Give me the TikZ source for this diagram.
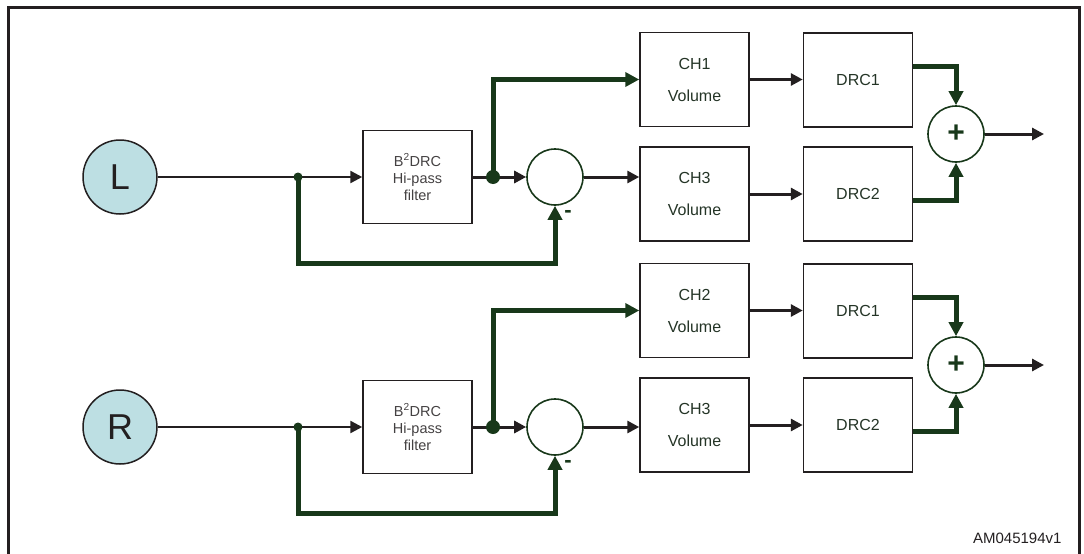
\documentclass[tikz,border=0pt]{standalone}
\usepackage{fontspec}
\setmainfont{Liberation Sans}
\usetikzlibrary{arrows.meta,calc,positioning}
\definecolor{sigblack}{RGB}{35,31,32}
\definecolor{fbgreen}{RGB}{24,56,26}
\definecolor{inblue}{RGB}{189,223,227}
\definecolor{lbltext}{RGB}{36,52,38}

\tikzset{
  blk/.style={draw=sigblack, line width=1.5pt, minimum width=109pt, minimum height=94pt, inner sep=0pt,
    font=\fontsize{16}{32}\selectfont, text=lbltext, align=center},
  fltbox/.style={blk, minimum height=93pt, font=\fontsize{14.5}{17}\selectfont, text=sigblack!85},
  src/.style={circle, draw=sigblack, line width=1.5pt, fill=inblue, minimum size=74pt, inner sep=0pt,
    font=\fontsize{36}{36}\selectfont, text=sigblack},
  mix/.style={circle, draw=fbgreen, line width=1.6pt, minimum size=56pt, inner sep=0pt},
  sig/.style={draw=sigblack, line width=3pt, -{Triangle[length=12pt,width=12pt]}},
  fb/.style={draw=fbgreen, line width=5pt, -{Triangle[length=14pt,width=14pt]}},
  jdot/.style={circle, fill=fbgreen, inner sep=0pt, minimum size=#1},
}

\begin{document}
\begin{tikzpicture}[x=1pt, y=-1pt]
  \useasboundingbox (0,0) rectangle (1084,554);
  % frame
  \draw[line width=3pt, sigblack] (8.5,554) -- (8.5,7) -- (1079,7) -- (1079,554);

  \foreach \lab/\dy/\dr/\chn in {L/0/0/1, R/250/231/2} {
    % left part: input, filter, subtractor
    \node[src] (src\lab) at (120,177+\dy) {\lab};
    \coordinate (jA\lab) at (298,177+\dy);
    \node[fltbox] (flt\lab) at (417.5,177+\dy) {B\textsuperscript{2}DRC\\Hi-pass\\filter};
    \coordinate (jB\lab) at (493,177+\dy);
    \node[mix] (sub\lab) at (555,177+\dy) {};
    \node[font=\fontsize{22}{22}\selectfont\bfseries, text=fbgreen] (neg\lab) at (568,214+\dy) {-};

    % right part: volume, DRC, adder
    \node[blk] (chA\lab) at (694.5,79.5+\dr) {CH\chn\\Volume};
    \node[blk] (chB\lab) at (694.5,194+\dr) {CH3\\Volume};
    \node[blk] (drcA\lab) at (858,80+\dr) {DRC1};
    \node[blk] (drcB\lab) at (858,194+\dr) {DRC2};
    \node[mix, font=\fontsize{30}{30}\selectfont\bfseries, text=fbgreen] (sum\lab) at (956,134+\dr) {+};
    \coordinate (out\lab) at (1044,134+\dr);

    % connectors
    \draw[sig, line width=2.5pt] (src\lab) -- (flt\lab);
    \draw[sig] (flt\lab) -- (sub\lab);
    \draw[sig] (sub\lab.east) -- (sub\lab.east -| chB\lab.west);
    \draw[fb] (jB\lab) |- (chA\lab.west);
    \draw[fb] (jA\lab) -- ++(0,86) -| (sub\lab.south);
    \draw[sig] (chA\lab.east) -- (chA\lab.east -| drcA\lab.west);
    \draw[sig] (chB\lab.east) -- (chB\lab.east -| drcB\lab.west);
    \draw[fb] ([yshift=14pt]drcA\lab.east) -| (sum\lab.north);
    \draw[fb] ([yshift=-6pt]drcB\lab.east) -| (sum\lab.south);
    \draw[sig] (sum\lab) -- (out\lab);

    % junction dots
    \node[jdot=9pt] (dA\lab) at (jA\lab) {};
    \node[jdot=14pt] (dB\lab) at (jB\lab) {};
  }

  \node[anchor=base east, font=\fontsize{15}{15}\selectfont, text=sigblack] (docid) at (1065,543) {AM045194v1};
\end{tikzpicture}
\end{document}
